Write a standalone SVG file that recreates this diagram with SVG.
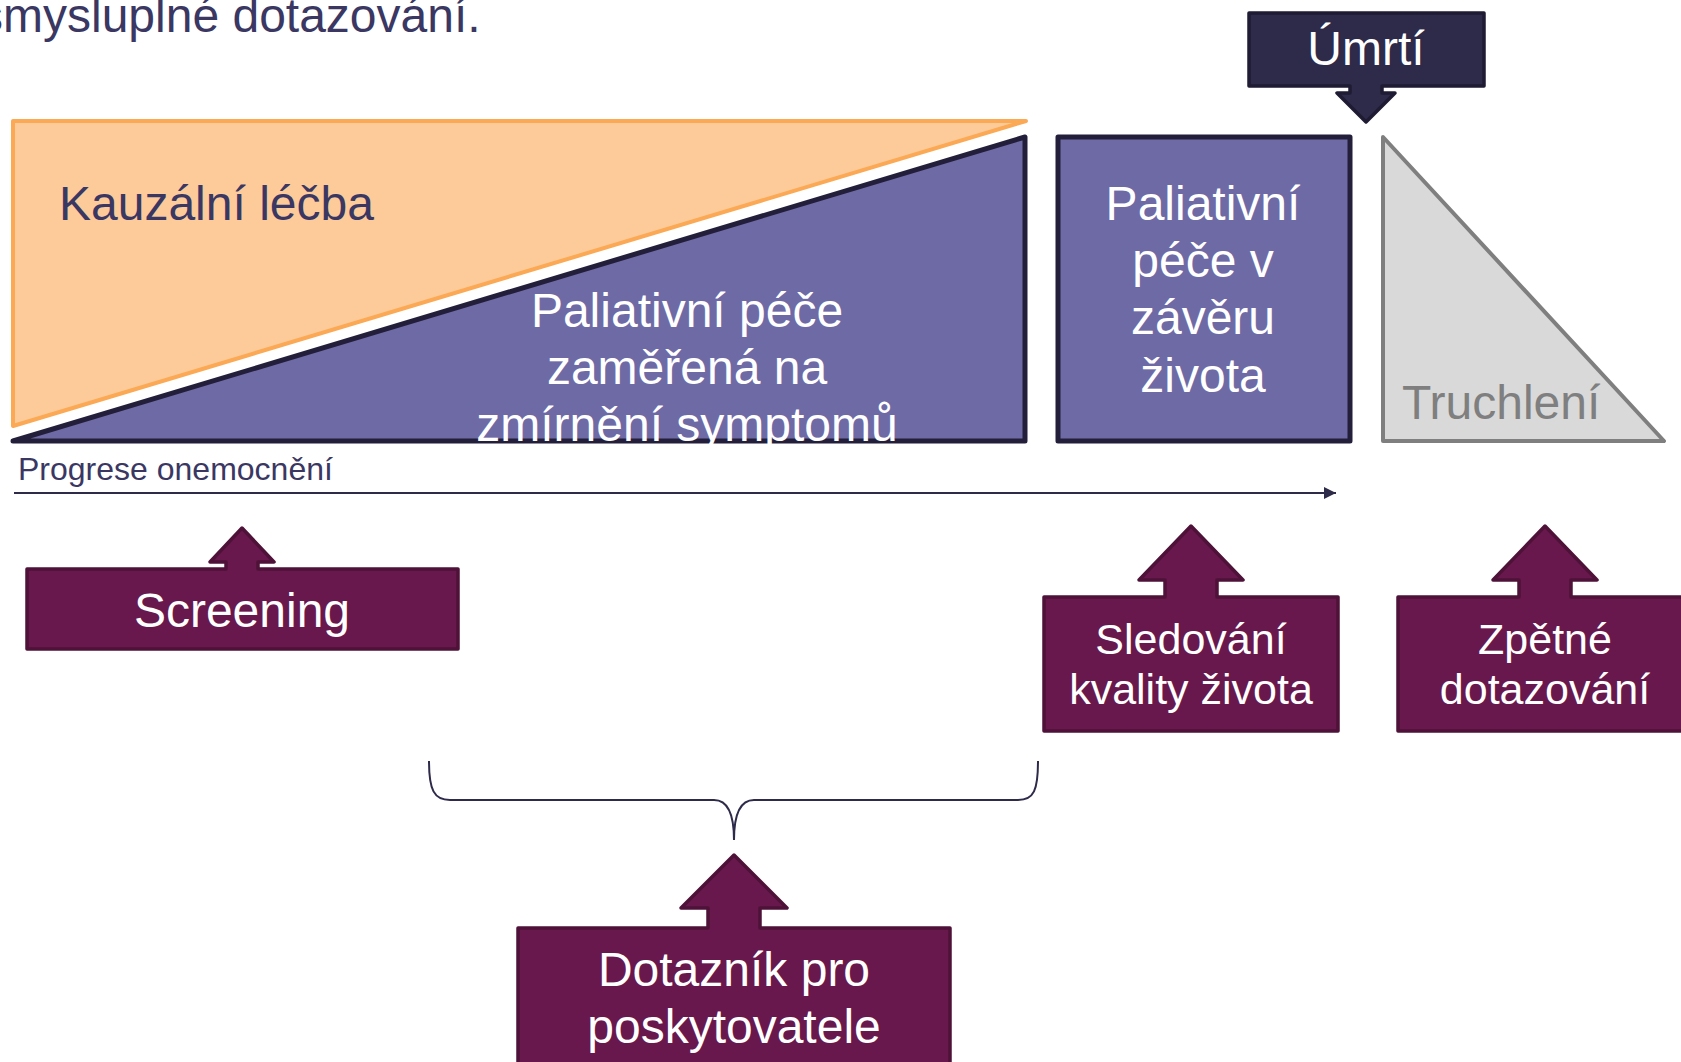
<svg xmlns="http://www.w3.org/2000/svg" width="1681" height="1062" viewBox="0 0 1681 1062">
<style>
text{font-family:"Liberation Sans",Arial,sans-serif}
.t48{font-size:48px}
.t43{font-size:43px}
.w{fill:#FFFFFF}
.dk{fill:#3A3763}
.call{fill:#68184C;stroke:#4E1238;stroke-width:3.5;stroke-linejoin:round}
.ax{stroke:#2E2A4A;stroke-width:2;fill:none}
</style>
<defs>
<marker id="ah" viewBox="0 0 10 10" refX="10" refY="5" markerWidth="6" markerHeight="6" orient="auto" markerUnits="strokeWidth">
<path d="M0,0 L10,5 L0,10 Z" fill="#2E2A4A"/>
</marker>
<clipPath id="clipP"><rect x="0" y="0" width="1681" height="444"/></clipPath>
</defs>
<text class="t48 dk" x="-21" y="32">smysluplné dotazování.</text>

<g id="kauzalni">
<polygon points="13,121 1026,121 13,426" fill="#FDCB9A" stroke="#FBA955" stroke-width="4" stroke-linejoin="round"/>
<text class="t48 dk" x="59" y="220">Kauzální léčba</text>
</g>

<g id="paliativni-symptomy">
<polygon points="13,441 1025,137 1025,441" fill="#6E6AA6" stroke="#231F3A" stroke-width="5" stroke-linejoin="round"/>
<g clip-path="url(#clipP)">
<text class="t48 w" text-anchor="middle" x="687" y="327">Paliativní péče</text>
<text class="t48 w" text-anchor="middle" x="687" y="384">zaměřená na</text>
<text class="t48 w" text-anchor="middle" x="687" y="441">zmírnění symptomů</text>
</g>
</g>

<g id="paliativni-zaver">
<rect x="1058" y="137" width="292" height="304" fill="#6E6AA6" stroke="#231F3A" stroke-width="5" stroke-linejoin="round"/>
<text class="t48 w" text-anchor="middle" x="1203" y="220">Paliativní</text>
<text class="t48 w" text-anchor="middle" x="1203" y="277">péče v</text>
<text class="t48 w" text-anchor="middle" x="1203" y="334">závěru</text>
<text class="t48 w" text-anchor="middle" x="1203" y="392">života</text>
</g>

<g id="umrti">
<path d="M1249,13 H1484 V86 H1382 V93 H1395 L1366,122 L1337,93 H1350 V86 H1249 Z" fill="#2D2A4A" stroke="#1E1B33" stroke-width="3.5" stroke-linejoin="round"/>
<text class="t48 w" text-anchor="middle" x="1366" y="65">Úmrtí</text>
</g>

<g id="truchleni">
<polygon points="1383,137 1664,441 1383,441" fill="#D9D9D9" stroke="#7F7F7F" stroke-width="4" stroke-linejoin="round"/>
<text class="t48" fill="#7F7F7F" x="1402" y="419">Truchlení</text>
</g>

<g id="connectors">
<line class="ax" x1="14" y1="493" x2="1336" y2="493" marker-end="url(#ah)"/>
<path class="ax" stroke-width="1.8" d="M429,761 C429,790 434,800 450,800 H714 C728,800 734,815 734,840 C734,815 740,800 754,800 H1018 C1034,800 1038,790 1038,761"/>
</g>

<text x="18" y="480" font-size="32" class="dk">Progrese onemocnění</text>

<g id="screening">
<path class="call" d="M27,569 H226 V562 H210 L242,528 L274,562 H258 V569 H458 V649 H27 Z"/>
<text class="t48 w" text-anchor="middle" x="242" y="627">Screening</text>
</g>

<g id="sledovani">
<path class="call" d="M1044,597 H1165 V580 H1139 L1191,526 L1243,580 H1217 V597 H1338 V731 H1044 Z"/>
<text class="t43 w" text-anchor="middle" x="1191" y="654">Sledování</text>
<text class="t43 w" text-anchor="middle" x="1191" y="704">kvality života</text>
</g>

<g id="zpetne">
<path class="call" d="M1398,597 H1519 V580 H1493 L1545,526 L1597,580 H1571 V597 H1692 V731 H1398 Z"/>
<text class="t43 w" text-anchor="middle" x="1545" y="654">Zpětné</text>
<text class="t43 w" text-anchor="middle" x="1545" y="704">dotazování</text>
</g>

<g id="dotaznik">
<path class="call" d="M518,928 H708 V908 H681 L734,855 L787,908 H760 V928 H950 V1080 H518 Z"/>
<text class="t48 w" text-anchor="middle" x="734" y="986">Dotazník pro</text>
<text class="t48 w" text-anchor="middle" x="734" y="1043">poskytovatele</text>
</g>
</svg>
